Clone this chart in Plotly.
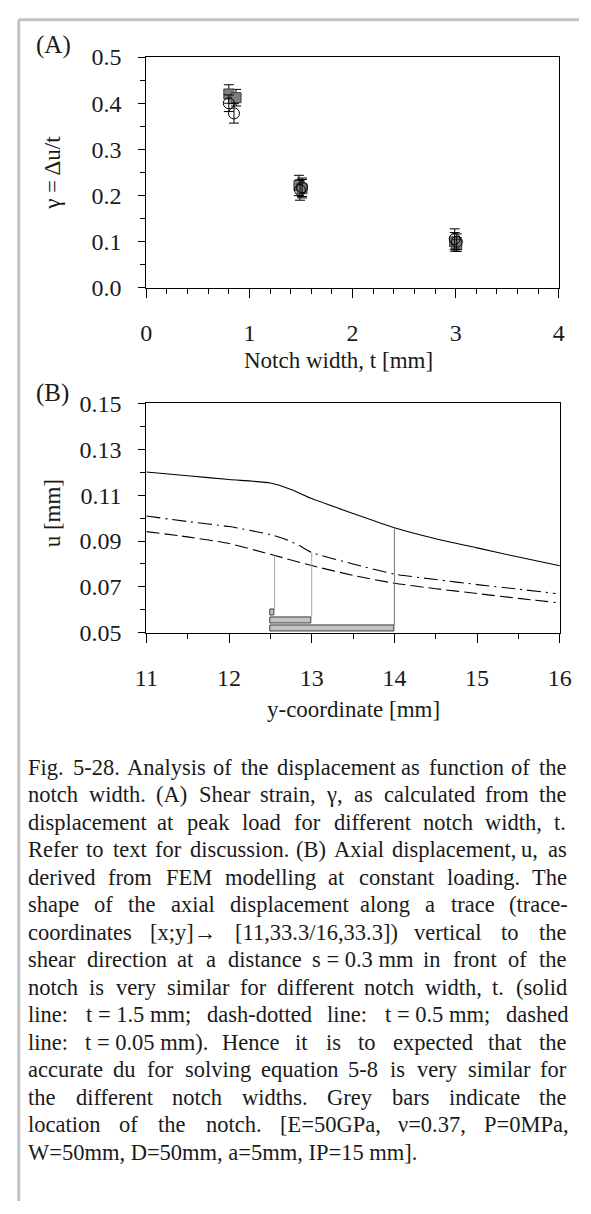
import numpy as np
import plotly.graph_objects as go

# ---------------- data ----------------
# (A) shear strain vs notch width: filled squares and open circles
sq_t = [0.80, 0.87, 1.48, 1.51, 2.99, 3.01]
sq_gamma = [0.420, 0.412, 0.222, 0.215, 0.100, 0.094]
sq_err = [0.020, 0.018, 0.022, 0.020, 0.020, 0.015]

ci_t = [0.80, 0.85, 1.49, 1.51, 2.99, 3.01]
ci_gamma = [0.400, 0.378, 0.212, 0.218, 0.106, 0.100]
ci_err = [0.018, 0.021, 0.022, 0.020, 0.022, 0.017]

# (B) axial displacement along the trace
y_solid = [11.0, 11.5, 12.0, 12.5, 12.75, 13.0, 13.5, 14.0, 14.5, 15.0, 15.5, 16.0]
u_solid = [0.1201, 0.1185, 0.1168, 0.1153, 0.1125, 0.1085, 0.1020, 0.0958,
           0.0910, 0.0870, 0.0830, 0.0792]

y_dashdot = [11.0, 11.5, 12.0, 12.5, 12.7, 12.85, 13.0, 13.5, 14.0, 14.5, 15.0, 15.5, 15.95]
u_dashdot = [0.1009, 0.0985, 0.0963, 0.0928, 0.0905, 0.0880, 0.0850, 0.0800,
             0.0756, 0.0732, 0.0710, 0.0690, 0.0671]

y_dashed = [11.0, 11.5, 12.0, 12.5, 13.0, 13.5, 14.0, 14.5, 15.0, 15.5, 15.95]
u_dashed = [0.0941, 0.0918, 0.0889, 0.0842, 0.0793, 0.0750, 0.0716, 0.0692,
            0.0671, 0.0650, 0.0632]

# notch location bars (start, width t, level)
notch_start = 12.5
notch_t = [0.05, 0.5, 1.5]
notch_level = [0.0587, 0.0554, 0.0520]
notch_curve = ["dashed", "dashdot", "solid"]

caption_lines = [
    "Fig. 5-28. Analysis of the displacement as function of the",
    "notch width. (A) Shear strain, γ, as calculated from the",
    "displacement at peak load for different notch width, t.",
    "Refer to text for discussion. (B) Axial displacement, u, as",
    "derived from FEM modelling at constant loading. The",
    "shape of the axial displacement along a trace (trace-",
    "coordinates [x;y]→ [11,33.3/16,33.3]) vertical to the",
    "shear direction at a distance s\u00a0=\u00a00.3\u00a0mm in front of the",
    "notch is very similar for different notch width, t. (solid",
    "line: t\u00a0=\u00a01.5\u00a0mm; dash-dotted line: t\u00a0=\u00a00.5\u00a0mm; dashed",
    "line: t\u00a0=\u00a00.05\u00a0mm). Hence it is to expected that the",
    "accurate du for solving equation 5-8 is very similar for",
    "the different notch widths. Grey bars indicate the",
    "location of the notch. [E=50GPa, ν=0.37, P=0MPa,",
    "W=50mm, D=50mm, a=5mm, IP=15 mm].",
]

# ---------------- page geometry ----------------
W, H = 591, 1214
SERIF = "Liberation Serif, Times New Roman, serif"
INK = "#1a1a1a"


def px(x):
    return x / W


def py(y):
    return 1 - y / H


fig = go.Figure()

# ---- panel A ----
fig.add_trace(go.Scatter(
    x=sq_t, y=sq_gamma, mode="markers",
    marker=dict(symbol="square", size=10, color="#7f7f7f",
                line=dict(color="#3a3a3a", width=1)),
    error_y=dict(type="data", array=sq_err, color="black", thickness=1, width=5),
    xaxis="x", yaxis="y", showlegend=False))
fig.add_trace(go.Scatter(
    x=ci_t, y=ci_gamma, mode="markers",
    marker=dict(symbol="circle-open", size=11, color="black",
                line=dict(color="black", width=1)),
    error_y=dict(type="data", array=ci_err, color="black", thickness=1, width=5),
    xaxis="x", yaxis="y", showlegend=False))

# ---- panel B ----
curves = {
    "solid": (y_solid, u_solid, "solid"),
    "dashdot": (y_dashdot, u_dashdot, "14px,5px,2px,5px"),
    "dashed": (y_dashed, u_dashed, "13px,5px"),
}
for key, (xs, us, dash) in curves.items():
    fig.add_trace(go.Scatter(
        x=xs, y=us, mode="lines", line_shape="spline",
        line=dict(color="black", width=1.1, dash=dash, smoothing=0.6),
        xaxis="x2", yaxis="y2", showlegend=False))

bar_half = 0.0013
fig.add_trace(go.Bar(
    x=notch_t, y=notch_level, base=notch_start, orientation="h",
    width=2 * bar_half,
    marker=dict(color="#c4c4c4", line=dict(color="#3a3a3a", width=1)),
    xaxis="x2", yaxis="y2", showlegend=False))

# connectors from the notch tip up to the corresponding curve
connector_colors = ["#a6a6a6", "#a6a6a6", "#767676"]
for t, lvl, key, col in zip(notch_t, notch_level, notch_curve, connector_colors):
    xs, us, _ = curves[key]
    tip = notch_start + t
    u_tip = float(np.interp(tip, xs, us))
    fig.add_trace(go.Scatter(
        x=[tip, tip], y=[lvl + bar_half, u_tip], mode="lines",
        line=dict(color=col, width=1),
        xaxis="x2", yaxis="y2", showlegend=False))

axis_common = dict(
    showline=True, linecolor="black", linewidth=1, mirror=True,
    showgrid=False, zeroline=False, ticks="outside", tickcolor="black",
    tickfont=dict(family=SERIF, size=24, color=INK),
)

fig.update_layout(
    width=W, height=H, autosize=False,
    margin=dict(l=0, r=0, t=0, b=0),
    paper_bgcolor="white", plot_bgcolor="white",
    bargap=0,
    xaxis=dict(domain=[px(140), px(570)], range=[0, 4], anchor="y",
               dtick=1, ticklen=9, ticklabelstandoff=14,
               minor=dict(ticks="outside", dtick=0.2, ticklen=5, tickcolor="black"),
               **axis_common),
    yaxis=dict(domain=[py(281), py(45)], range=[0, 0.5], anchor="x",
               dtick=0.1, tickformat=".1f", ticklen=7, ticklabelstandoff=12,
               minor=dict(ticks="outside", dtick=0.05, ticklen=5, tickcolor="black"),
               **axis_common),
    xaxis2=dict(domain=[px(140), px(571)], range=[11, 16], anchor="y2",
                dtick=1, ticklen=9, ticklabelstandoff=14,
                minor=dict(ticks="outside", dtick=0.5, ticklen=5, tickcolor="black"),
                **axis_common),
    yaxis2=dict(domain=[py(633.3), py(399)], range=[0.05, 0.15], anchor="x2",
                tick0=0.05, dtick=0.02, tickformat=".2f", ticklen=7, ticklabelstandoff=12,
                minor=dict(ticks="outside", tick0=0.05, dtick=0.01, ticklen=5, tickcolor="black"),
                **axis_common),
)

annotations = []


def label(text, x, y, size=24, angle=0, xanchor="center"):
    annotations.append(dict(
        text=text, x=px(x), y=py(y), xref="paper", yref="paper",
        xanchor=xanchor, yanchor="middle", showarrow=False, textangle=angle,
        borderpad=0, borderwidth=0,
        font=dict(family=SERIF, size=size, color=INK)))


label("(A)", 43, 33, size=25)
label("(B)", 42, 388, size=25)
label("Notch width, t [mm]", 340, 355, size=23)
label("y-coordinate [mm]", 356, 712, size=23)
label("γ = Δu/t", 42, 163, size=23, angle=-90)
label("u [mm]", 42, 511, size=23, angle=-90)

# ---- justified caption, word by word using Times-compatible metrics ----
_W = {" ": 250, "\u00a0": 250, "!": 333, "(": 333, ")": 333, ",": 250, "-": 333,
      ".": 250, "/": 278, ":": 278, ";": 278, "=": 564, "[": 333, "]": 333,
      "A": 722, "B": 667, "C": 667, "D": 722, "E": 611, "F": 556, "G": 722,
      "H": 722, "I": 333, "J": 389, "K": 722, "L": 611, "M": 889, "N": 722,
      "O": 722, "P": 556, "Q": 722, "R": 667, "S": 556, "T": 611, "U": 722,
      "V": 722, "W": 944, "X": 722, "Y": 722, "Z": 611,
      "a": 444, "b": 500, "c": 444, "d": 500, "e": 444, "f": 333, "g": 500,
      "h": 500, "i": 278, "j": 278, "k": 500, "l": 278, "m": 778, "n": 500,
      "o": 500, "p": 500, "q": 500, "r": 333, "s": 389, "t": 278, "u": 500,
      "v": 500, "w": 722, "x": 500, "y": 500, "z": 444,
      "γ": 440, "ν": 470, "→": 1000}


def text_width(s, size):
    return sum(_W.get(c, 500) for c in s) * size / 1000.0


CAP_SIZE = 22.5
CAP_LEFT, CAP_RIGHT = 17, 577
CAP_TOP, CAP_STEP = 771, 28.07

for i, line in enumerate(caption_lines):
    yline = CAP_TOP + i * CAP_STEP
    words = line.split(" ")
    last = i == len(caption_lines) - 1
    if last or len(words) == 1:
        label(line, CAP_LEFT, yline, size=CAP_SIZE, xanchor="left")
        continue
    widths = [text_width(w, CAP_SIZE) for w in words]
    gap = (CAP_RIGHT - CAP_LEFT - sum(widths)) / (len(words) - 1)
    gap = max(gap, text_width(" ", CAP_SIZE) * 0.6)
    x = CAP_LEFT
    for w, wd in zip(words, widths):
        label(w, x, yline, size=CAP_SIZE, xanchor="left")
        x += wd + gap

fig.update_layout(annotations=annotations)

# light frame along the top and left edges of the page
fig.update_layout(shapes=[
    dict(type="line", xref="paper", yref="paper", x0=px(7), x1=1, y0=py(7), y1=py(7),
         line=dict(color="#c3c3c3", width=3)),
    dict(type="line", xref="paper", yref="paper", x0=px(7), x1=px(7), y0=0, y1=py(7),
         line=dict(color="#c3c3c3", width=3)),
])

fig.write_html("out.html", config={"responsive": False})
